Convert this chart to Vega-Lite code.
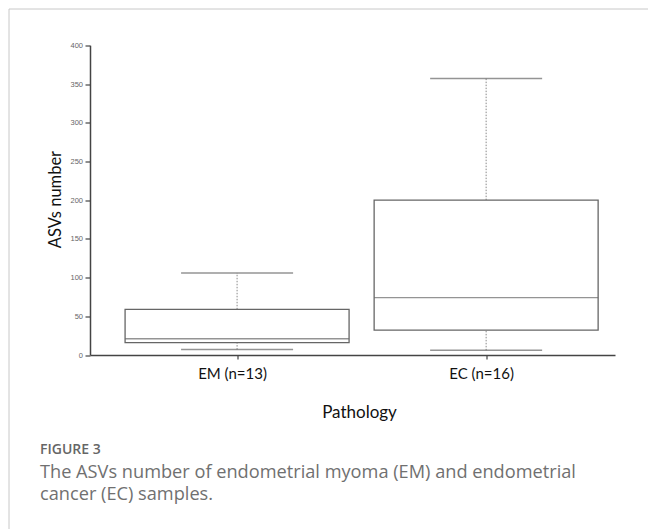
{
  "$schema": "https://vega.github.io/schema/vega-lite/v6.json",
  "width": 640,
  "height": 520.5,
  "autosize": {"type": "none"},
  "padding": {"left": 8.5, "top": 8.5, "right": 0, "bottom": 0},
  "background": "white",
  "config": {
    "view": {"stroke": "#c8c8c8", "strokeWidth": 1},
    "axis": {"grid": false}
  },
  "data": {
    "values": [
      {"group": "EM (n=13)", "min": 7, "q1": 16, "median": 21, "q3": 59, "max": 106},
      {"group": "EC (n=16)", "min": 6, "q1": 32, "median": 74, "q3": 200, "max": 357}
    ]
  },
  "title": {
    "text": "FIGURE 3",
    "subtitle": ["The ASVs number of endometrial myoma (EM) and endometrial", "cancer (EC) samples."],
    "orient": "bottom",
    "anchor": "start",
    "frame": "group",
    "offset": -75,
    "dx": 31.5,
    "baseline": "alphabetic",
    "font": "Open Sans",
    "fontSize": 14,
    "fontWeight": 600,
    "color": "#666666",
    "subtitleFont": "Open Sans",
    "subtitleFontSize": 18.2,
    "subtitleFontWeight": "normal",
    "subtitleColor": "#707070",
    "subtitleLineHeight": 22.3,
    "subtitlePadding": 10
  },
  "encoding": {
    "x": {
      "field": "group",
      "type": "nominal",
      "sort": null,
      "scale": {"type": "point", "range": [81.5, 606.5], "padding": 0.554, "align": 0.533},
      "axis": {
        "title": "Pathology",
        "offset": -174,
        "labelAngle": 0,
        "labelFont": "Lato",
        "labelFontSize": 15,
        "labelColor": "#111111",
        "labelBaseline": "alphabetic",
        "labelPadding": 19,
        "labelOffset": -5,
        "tickSize": 4,
        "tickColor": "#444444",
        "tickWidth": 1.2,
        "domainColor": "#444444",
        "domainWidth": 1.5,
        "titleFont": "Lato",
        "titleFontSize": 17,
        "titleFontWeight": "normal",
        "titleColor": "#111111",
        "titleBaseline": "alphabetic",
        "titleX": 350.5,
        "titleY": 62
      }
    }
  },
  "layer": [
    {
      "mark": {"type": "rule", "strokeDash": [1.5, 1.5], "color": "#888888", "strokeWidth": 1},
      "encoding": {
        "y": {
          "field": "min",
          "type": "quantitative",
          "scale": {"domain": [0, 400], "range": [346.5, 36.8], "nice": false, "zero": true},
          "axis": {
            "title": "ASVs number",
            "values": [0, 50, 100, 150, 200, 250, 300, 350, 400],
            "offset": -81.5,
            "domainColor": "#444444",
            "domainWidth": 1.5,
            "tickColor": "#444444",
            "tickWidth": 1.2,
            "tickSize": 5,
            "labelPadding": 2.5,
            "labelFont": "Liberation Sans",
            "labelFontSize": 7.5,
            "labelColor": "#666666",
            "titleFont": "Lato",
            "titleFontSize": 16.5,
            "titleFontWeight": "normal",
            "titleColor": "#111111",
            "titleAngle": -90,
            "titleBaseline": "alphabetic",
            "titleAlign": "center",
            "titleX": -29.5,
            "titleY": 190.5
          }
        },
        "y2": {"field": "q1"}
      }
    },
    {
      "mark": {"type": "rule", "strokeDash": [1.5, 1.5], "color": "#888888", "strokeWidth": 1},
      "encoding": {
        "y": {"field": "q3", "type": "quantitative", "title": "ASVs number"},
        "y2": {"field": "max"}
      }
    },
    {
      "mark": {"type": "tick", "orient": "horizontal", "size": 112, "thickness": 1.5, "color": "#666666"},
      "encoding": {"y": {"field": "min", "type": "quantitative", "title": "ASVs number"}}
    },
    {
      "mark": {"type": "tick", "orient": "horizontal", "size": 112, "thickness": 1.5, "color": "#666666"},
      "encoding": {"y": {"field": "max", "type": "quantitative", "title": "ASVs number"}}
    },
    {
      "mark": {"type": "bar", "size": 224, "fill": "white", "stroke": "#666666", "strokeWidth": 1.3},
      "encoding": {
        "y": {"field": "q1", "type": "quantitative", "title": "ASVs number"},
        "y2": {"field": "q3"}
      }
    },
    {
      "mark": {"type": "tick", "orient": "horizontal", "size": 224, "thickness": 1.3, "color": "#666666"},
      "encoding": {"y": {"field": "median", "type": "quantitative", "title": "ASVs number"}}
    }
  ]
}
